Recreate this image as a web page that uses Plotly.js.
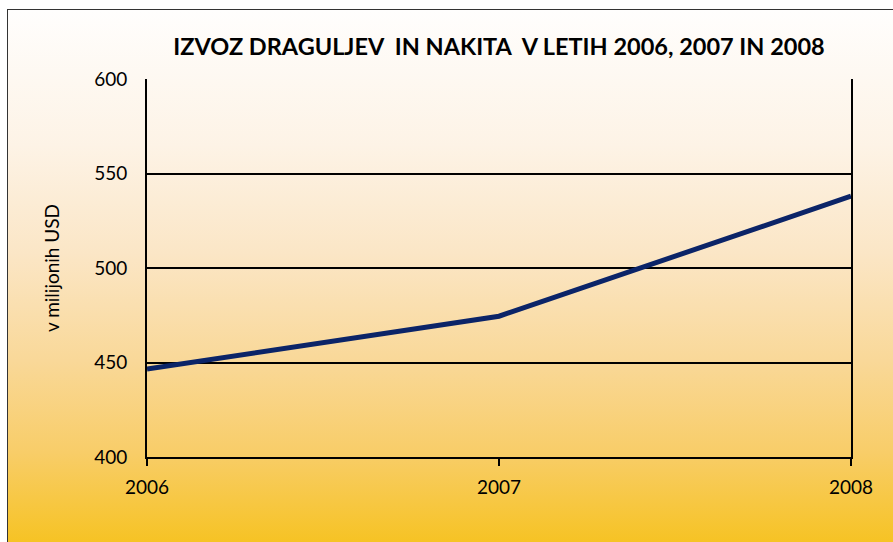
<!DOCTYPE html>
<html>
<head>
<meta charset="utf-8">
<script src="https://cdn.plot.ly/plotly-3.0.1.min.js"></script>
<style>
html,body{margin:0;padding:0;background:#ffffff;}
#wrap{position:absolute;left:0;top:0;width:893px;height:542px;overflow:hidden;}
#bg{position:absolute;left:7px;top:9px;width:900px;height:540px;border-left:1.5px solid #333;border-top:1.5px solid #333;
background:linear-gradient(to bottom,#fffefd 0%,#fdf3e6 25%,#fbe6c6 45%,#f9d898 65%,#f8cd68 82%,#f6c21e 100%);}
#chart{position:absolute;left:0;top:0;width:893px;height:542px;}
</style>
</head>
<body>
<div id="wrap">
<div id="bg"></div>
<div id="chart"></div>
</div>
<script>
const years = [2006, 2007, 2008];
const values = [446.5, 474.5, 538];
const yTicks = [400, 450, 500, 550, 600];
const xTickLabels = ['2006', '2007', '2008'];

const font = 'Lato, "Open Sans", "DejaVu Sans", sans-serif';

const trace = {
  x: years,
  y: values,
  type: 'scatter',
  mode: 'lines',
  line: {color: '#0b2468', width: 5},
  hoverinfo: 'none'
};

const layout = {
  width: 893,
  height: 542,
  margin: {l: 147, r: 42, t: 79, b: 85},
  paper_bgcolor: 'rgba(0,0,0,0)',
  plot_bgcolor: 'rgba(0,0,0,0)',
  showlegend: false,
  title: {
    text: 'IZVOZ DRAGULJEV  IN NAKITA  V LETIH 2006, 2007 IN 2008',
    font: {family: font, size: 23.5, color: '#000', weight: 'bold'},
    x: 0.5, xref: 'paper', xanchor: 'center',
    y: 1 - 47/542, yref: 'container', yanchor: 'middle'
  },
  xaxis: {
    range: [2006, 2008],
    tickvals: years,
    ticktext: xTickLabels,
    showgrid: false,
    zeroline: false,
    showline: true,
    linecolor: '#000',
    linewidth: 2,
    mirror: false,
    ticks: 'outside',
    ticklen: 7,
    tickwidth: 2,
    tickcolor: '#000',
    ticklabelstandoff: 5,
    tickfont: {family: font, size: 19, color: '#000'},
    fixedrange: true
  },
  yaxis: {
    range: [400, 600],
    tickvals: yTicks,
    ticktext: yTicks.map(String),
    showgrid: true,
    gridcolor: '#000',
    gridwidth: 2,
    zeroline: false,
    showline: true,
    linecolor: '#000',
    linewidth: 2,
    mirror: true,
    ticks: '',
    ticklabelstandoff: 14,
    tickfont: {family: font, size: 19, color: '#000'},
    title: {text: 'v milijonih USD', font: {family: font, size: 19, color: '#000'}, standoff: 29},
    fixedrange: true
  }
};

Plotly.newPlot('chart', [trace], layout, {displayModeBar: false, staticPlot: true});
</script>
</body>
</html>
